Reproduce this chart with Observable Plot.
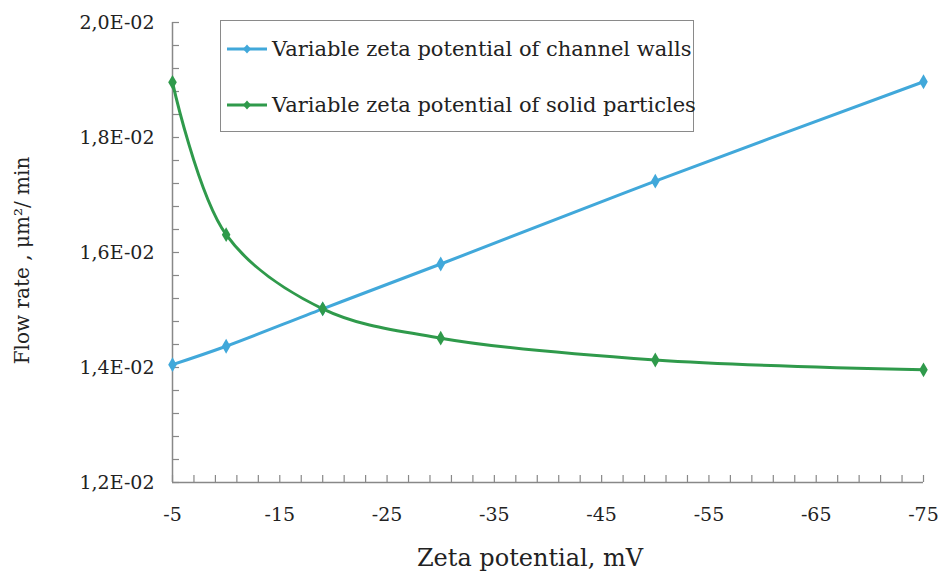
<!DOCTYPE html>
<html><head><meta charset="utf-8">
<script src="https://cdn.jsdelivr.net/npm/d3@7"></script>
<script src="https://cdn.jsdelivr.net/npm/@observablehq/plot@0.6"></script>
<style>
body{margin:0;background:#fff;}
#wrap{position:relative;width:940px;height:575px;font-family:"DejaVu Serif",serif;color:#222;}
#legend{position:absolute;left:220px;top:20px;width:474px;height:112px;border:1px solid #8a8a8a;box-sizing:border-box;background:#fff;}
.row{position:absolute;left:5px;height:24px;line-height:24px;font-size:21px;white-space:nowrap;display:flex;align-items:center;}
.row svg{margin-right:4px;}
</style></head>
<body><div id="wrap"></div>
<script>
const seriesNames = ["Variable zeta potential of channel walls", "Variable zeta potential of solid particles"];
const seriesColors = ["#41a8da", "#2f9a4b"];
const zeta = [-5, -10, -19, -30, -50, -75];
const wallsFlow = [0.01405, 0.01437, 0.01502, 0.01580, 0.01724, 0.01897];
const particlesFlow = [0.01896, 0.01631, 0.01502, 0.01451, 0.01413, 0.01396];
const xTicks = [-5, -15, -25, -35, -45, -55, -65, -75];
const yTicks = [0.012, 0.014, 0.016, 0.018, 0.020];
const xMinor = d3.range(-5, -76, -2);
const yMinor = d3.range(0, 21).map(i => 0.012 + i * 0.0004);
const xTitle = "Zeta potential, mV";
const yTitle = "Flow rate , μm²/ min";

const W = 940, H = 575, mL = 172, mR = 17, mT = 22, mB = 93;
const axisColor = "#888";

const plot = Plot.plot({
  width: W, height: H,
  marginLeft: mL, marginRight: mR, marginTop: mT, marginBottom: mB,
  style: {fontFamily: "DejaVu Serif", fontSize: "19px", color: "#222", background: "#fff", overflow: "visible"},
  x: {domain: [-5, -75]},
  y: {domain: [0.012, 0.020]},
  marks: [
    Plot.tickY(yMinor, {y: d => d, stroke: axisColor, strokeWidth: 1.2, insetRight: W - mL - mR - 7}),
    Plot.tickX(xMinor, {x: d => d, stroke: axisColor, strokeWidth: 1.2, insetTop: H - mT - mB - 7}),
    Plot.ruleX([-5], {stroke: axisColor, strokeWidth: 1.5}),
    Plot.ruleY([0.012], {stroke: axisColor, strokeWidth: 1.5}),
    Plot.axisY(yTicks, {tickSize: 0, tickPadding: 18, label: null,
      tickFormat: d => (d * 100).toFixed(1).replace(".", ",") + "E-02"}),
    Plot.axisX(xTicks, {tickSize: 0, tickPadding: 25, label: null, tickFormat: d => String(d)}),
    Plot.line(zeta, {x: d => d, y: (d, i) => wallsFlow[i], stroke: seriesColors[0], strokeWidth: 3, curve: "catmull-rom"}),
    Plot.line(zeta, {x: d => d, y: (d, i) => particlesFlow[i], stroke: seriesColors[1], strokeWidth: 3, curve: "catmull-rom"}),
    Plot.dot(zeta, {x: d => d, y: (d, i) => wallsFlow[i], symbol: "diamond", r: 4.5, fill: seriesColors[0]}),
    Plot.dot(zeta, {x: d => d, y: (d, i) => particlesFlow[i], symbol: "diamond", r: 4.5, fill: seriesColors[1]}),
    Plot.text([xTitle], {text: d => d, frameAnchor: "bottom", textAnchor: "middle", lineAnchor: "middle", dx: -18, dy: 76, fontSize: 24, fill: "#222"}),
    Plot.text([yTitle], {text: d => d, frameAnchor: "left", textAnchor: "middle", lineAnchor: "middle", dx: -150, dy: 8, rotate: -90, fontSize: 20, fill: "#222"})
  ]
});

const wrap = document.getElementById("wrap");
wrap.appendChild(plot);

const legend = document.createElement("div");
legend.id = "legend";
const tops = [16, 72];
seriesNames.forEach((name, i) => {
  const row = document.createElement("div");
  row.className = "row";
  row.style.top = tops[i] + "px";
  row.innerHTML = `<svg width="42" height="12"><line x1="1" y1="6" x2="41" y2="6" stroke="${seriesColors[i]}" stroke-width="3"/><path d="M21,1.5L25,6L21,10.5L17,6Z" fill="${seriesColors[i]}"/></svg><span>${name}</span>`;
  legend.appendChild(row);
});
wrap.appendChild(legend);
</script>
</body></html>
